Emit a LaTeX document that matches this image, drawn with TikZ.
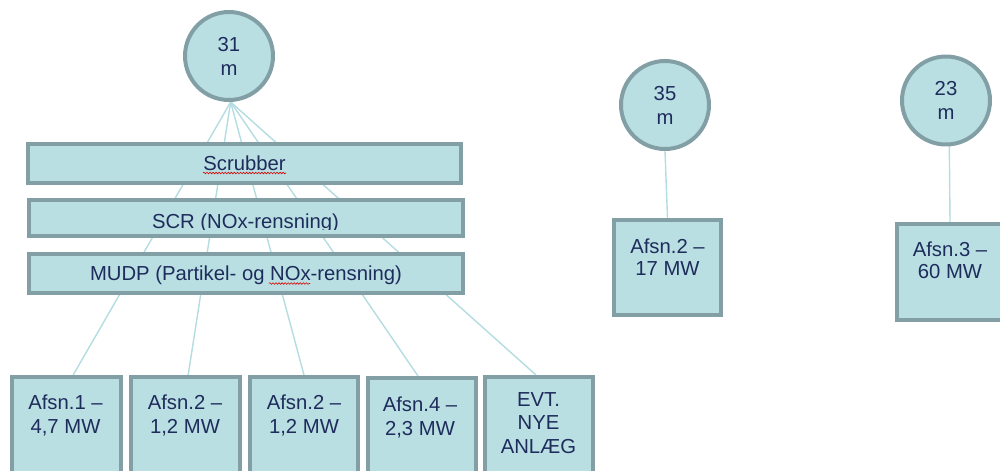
\documentclass[tikz,border=0pt]{standalone}
\usepackage{fontspec}
\setmainfont{Liberation Sans}
\usetikzlibrary{decorations.pathmorphing}
\definecolor{fillc}{HTML}{B9DFE2}
\definecolor{edgec}{HTML}{819FA4}
\definecolor{txtc}{HTML}{1E2C5C}
\definecolor{connc}{HTML}{B4DDE1}
\pgfdeclarelayer{bg}
\pgfsetlayers{bg,main}
\begin{document}
\begin{tikzpicture}[x=0.03cm,y=-0.03cm,
  sbox/.style={draw=edgec, fill=fillc, line width=3.4pt, rectangle, inner sep=0pt},
  chim/.style={draw=edgec, fill=fillc, line width=3.4pt, circle, inner sep=0pt, minimum size=2.64cm, align=center, text=txtc, font=\fontsize{17.3pt}{20.5pt}\selectfont},
  sbar/.style={sbox, minimum width=13.02cm, text=txtc, font=\fontsize{17.3pt}{20pt}\selectfont, text height=12.4pt, text depth=0pt},
  bartxt/.style={inner sep=0pt, text=txtc, font=\fontsize{17.3pt}{20pt}\selectfont},
  lowbox/.style={sbox, minimum width=3.24cm, minimum height=3.24cm},
  lab/.style={anchor=north, inner sep=0pt, align=center, text=txtc, font=\fontsize{17.3pt}{20pt}\selectfont},
  conn/.style={draw=connc, line width=1.2pt},
  squig/.style={draw=red!85!black, line width=0.5pt, decorate, decoration={snake, amplitude=0.7pt, segment length=2.6pt}}]
\useasboundingbox (0,0) rectangle (1000,470);
\clip (0,0) rectangle (1000,470);

% stacks
\node[chim] (c31) at (229,56) {31\\m};
\node[chim] (c35) at (665,105) {35\\m};
\node[chim] (c23) at (946,100.5) {23\\m};

% cleaning bars
\node[sbar, minimum width=12.99cm, minimum height=1.17cm] (scrub) at (244.5,163.5) {Scrubber};
\node[sbar, minimum height=1.08cm] (scr) at (246,218) {};
\node[sbar, minimum height=1.17cm] (mudp) at (246,273.5) {MUDP (Partikel- og NOx-rensning)};
\begin{scope}
  \clip (29,200) rectangle (463,229.5);
  \node[bartxt, anchor=base] (scrtxt) at (245.5,228) {SCR (NOx-rensning)};
\end{scope}
\draw[squig] (203,173) -- (286,173);
\draw[squig] (269,283.5) -- (310,283.5);

% plants
\node[lowbox, minimum width=3.27cm] (a1) at (66.5,431) {};
\node[lowbox, minimum width=3.27cm] (a2) at (185.5,431) {};
\node[lowbox] (a3) at (304,431) {};
\node[lowbox, minimum height=3.21cm] (a4) at (422,431.5) {};
\node[lowbox] (a5) at (539,431) {};
\node[sbox, minimum width=3.21cm, minimum height=2.85cm] (r1) at (667.5,267.5) {};
\node[sbox, minimum width=3.24cm, minimum height=2.88cm] (r2) at (951,272) {};

\node[lab] (t1) at (65.5,395) {Afsn.1 –\\4,7 MW};
\node[lab] (t2) at (185,395) {Afsn.2 –\\1,2 MW};
\node[lab] (t3) at (304,395) {Afsn.2 –\\1,2 MW};
\node[lab] (t4) at (420,397) {Afsn.4 –\\2,3 MW};
\node[lab] (t5) at (538.5,392) {EVT.\\NYE\\ANLÆG};
\node[lab, font=\fontsize{17.3pt}{18.8pt}\selectfont] (t6) at (667.5,239) {Afsn.2 –\\17 MW};
\node[lab, font=\fontsize{17.3pt}{18.8pt}\selectfont] (t7) at (950,242) {Afsn.3 –\\60 MW};

% connectors
\begin{pgfonlayer}{bg}
  \foreach \b/\dx in {a1/0.2cm,a2/0.08cm,a3/0cm,a4/-0.12cm,a5/-0.09cm}
    \draw[conn] ([xshift=0.05cm]c31.south) -- ([xshift=\dx]\b.north);
  \draw[conn] (c35.south) -- (r1.north);
  \draw[conn] ([xshift=0.1cm]c23.south) -- ([xshift=-0.03cm]r2.north);
\end{pgfonlayer}
\end{tikzpicture}
\end{document}
